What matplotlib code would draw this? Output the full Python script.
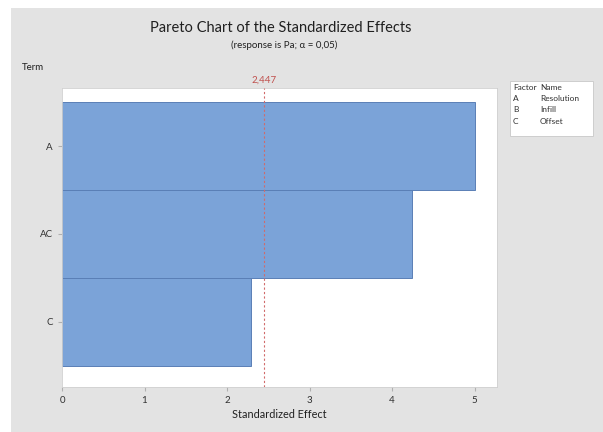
import matplotlib.pyplot as plt
from matplotlib.patches import Rectangle

terms = ["A", "AC", "C"]
effects = [5.0, 4.24, 2.29]
critical = 2.447
factors = ["A", "B", "C"]
names = ["Resolution", "Infill", "Offset"]

plt.rcParams['font.family'] = ['Lato', 'DejaVu Sans']

fig = plt.figure(figsize=(6.03, 4.32), dpi=100, facecolor="white")
# grey panel behind everything
fig.patches.append(Rectangle((11 / 603, 0), 1, 1 - 8 / 432, transform=fig.transFigure,
                             facecolor="#e3e3e3", edgecolor="none", zorder=-10))

ax = fig.add_axes([62 / 603, 45 / 432, 435 / 603, 299 / 432])
ax.set_facecolor("white")

ypos = list(range(len(terms)))
ax.barh(ypos, effects, height=1.0, color="#7ba3d8", edgecolor="#5a7fb6", linewidth=0.7, zorder=2)
ax.axvline(critical, color="#d06b6b", linestyle=(0, (2, 2)), linewidth=0.8, zorder=3)

ax.set_xlim(0, 5.27)
ax.set_ylim(2.74, -0.66)
ax.set_yticks(ypos)
ax.set_yticklabels(terms)
ax.set_xticks(range(6))
ax.tick_params(axis="both", labelsize=7, colors="#303030", length=3, color="#b0b0b0")
for s in ax.spines.values():
    s.set_color("#d0d0d0")
    s.set_linewidth(0.6)

ax.set_xlabel("Standardized Effect", fontsize=7.8, color="#202020", labelpad=3)
ax.text(critical, 1.01, "2,447", transform=ax.get_xaxis_transform(), ha="center", va="bottom",
        fontsize=7, color="#c0504d")

fig.text(0.466, 0.935, "Pareto Chart of the Standardized Effects", ha="center", va="center",
         fontsize=10.5, color="#202020")
fig.text(0.471, 0.895, "(response is Pa; \u03b1 = 0,05)", ha="center", va="center",
         fontsize=7, color="#202020")
fig.text(22 / 603, 1 - 68 / 432, "Term", ha="left", va="center", fontsize=7, color="#202020")

# factor legend box
fig.patches.append(Rectangle((510 / 603, 1 - 136 / 432), 83 / 603, 55 / 432, transform=fig.transFigure,
                             facecolor="white", edgecolor="#c8c8c8", linewidth=0.6, zorder=1))
rows = [("Factor", "Name")] + list(zip(factors, names))
for i, (f, n) in enumerate(rows):
    yy = 1 - (87 + i * 11.5) / 432
    fig.text(513 / 603, yy, f, fontsize=6, color="#303030", va="center")
    fig.text(540 / 603, yy, n, fontsize=6, color="#303030", va="center")

fig.savefig("out.png", dpi=100, facecolor=fig.get_facecolor())
